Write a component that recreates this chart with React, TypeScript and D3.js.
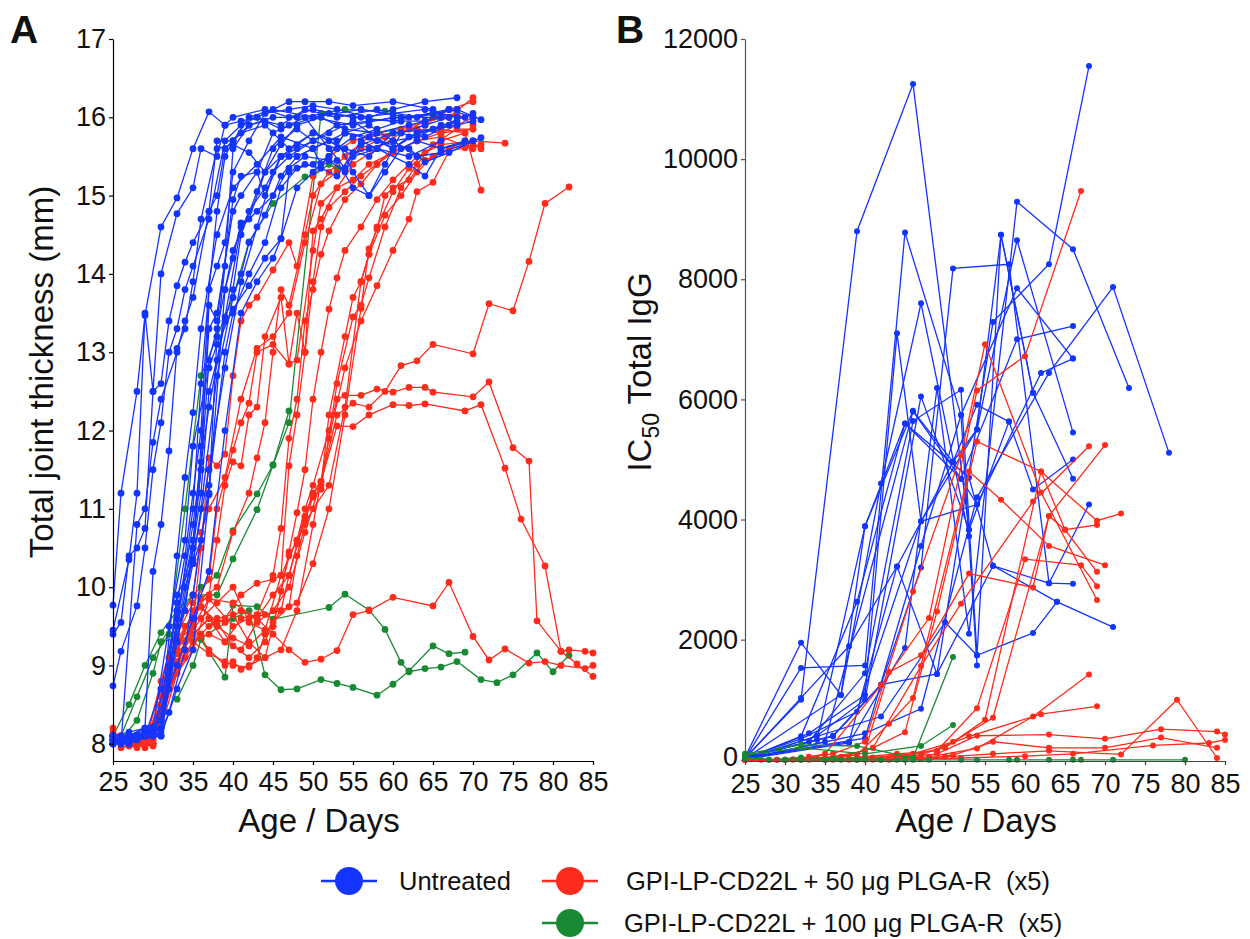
import * as d3 from "d3";
import React, { useRef, useEffect } from "react";

// colours of the three treatment groups
const BLUE = "#1434ff";
const RED = "#ff2b1c";
const GREEN = "#198a33";

const groupLabels = [
  "Untreated",
  "GPI-LP-CD22L + 50 \u03bcg PLGA-R  (x5)",
  "GPI-LP-CD22L + 100 \u03bcg PLGA-R  (x5)",
];

const dayTicks = [25, 30, 35, 40, 45, 50, 55, 60, 65, 70, 75, 80, 85];
const thicknessTicks = [8, 9, 10, 11, 12, 13, 14, 15, 16, 17];
const iggTicks = [0, 2000, 4000, 6000, 8000, 10000, 12000];

type Pt = [number, number];

// Panel A: total joint thickness (mm) per mouse, [day, value]
const thicknessUntreated: Pt[][] = [
  [[25, 9.77], [26, 11.2], [28, 12.5], [29, 13.47], [31, 14.6], [33, 14.97], [35, 15.6], [37, 16.07], [39, 15.9], [41, 15.95], [43, 16.0], [47, 16.2], [49, 16.2], [52, 16.2], [55, 16.15], [60, 16.2], [65, 16.1], [68, 15.9]],
  [[25, 9.45], [27, 10.35], [28, 11.2], [29, 13.5], [30, 12.5], [31, 14.0], [33, 14.77], [35, 15.1], [36, 15.6], [38, 15.5], [39, 15.9], [40, 16.0], [44, 16.1], [47, 16.0], [50, 16.1], [55, 16.0], [60, 15.95], [65, 16.05], [69, 16.0]],
  [[25, 9.4], [26, 9.55], [27, 10.4], [28, 10.5], [29, 10.75], [30, 12.5], [31, 12.6], [32, 13.4], [33, 13.85], [34, 14.15], [35, 14.4], [37, 14.8], [38, 15.0], [39, 15.6], [40, 15.7], [42, 16.0], [45, 16.1], [50, 16.0], [56, 16.1], [62, 16.0], [67, 16.1]],
  [[25, 8.74], [26, 9.18], [28, 9.76], [29, 10.5], [30, 11.5], [31, 12.1], [32, 13.0], [33, 13.3], [34, 13.8], [35, 14.1], [37, 14.7], [39, 15.7], [41, 15.9], [43, 16.0], [46, 15.85], [50, 16.0], [55, 15.9], [60, 16.0], [66, 16.0]],
  [[25, 8.1], [26, 8.0], [28, 10.8], [29, 11.0], [30, 11.85], [31, 12.4], [33, 13.0], [34, 13.4], [35, 13.7], [37, 14.8], [38, 15.7], [40, 15.7], [42, 15.9], [44, 15.95], [46, 15.9], [49, 16.1], [53, 16.0], [58, 16.1], [63, 16.0], [68, 16.1]],
  [[25, 8.0], [26, 8.05], [27, 8.1], [29, 8.2], [30, 10.2], [31, 10.8], [32, 11.74], [33, 13.05], [34, 13.3], [35, 13.9], [36, 14.7], [38, 15.6], [40, 15.65], [42, 15.55], [44, 15.3], [46, 15.65], [48, 15.9], [51, 16.0], [54, 15.85], [58, 15.8], [62, 15.9], [66, 16.0]],
  [[25, 8.05], [27, 8.0], [29, 8.15], [31, 8.2], [33, 9.8], [34, 10.4], [35, 11.2], [36, 12.0], [37, 13.8], [38, 14.8], [39, 15.5], [40, 15.7], [41, 15.8], [44, 15.9], [47, 15.6], [50, 15.8], [54, 15.6], [57, 15.5], [60, 15.8], [64, 15.75], [68, 15.95]],
  [[25, 8.1], [27, 8.1], [29, 8.1], [31, 8.7], [33, 9.7], [35, 10.5], [36, 11.8], [37, 13.3], [38, 13.5], [40, 14.8], [41, 15.0], [43, 15.3], [44, 15.0], [46, 15.5], [48, 15.5], [50, 15.6], [52, 15.7], [55, 15.5], [58, 15.6], [62, 15.5], [66, 15.7]],
  [[26, 8.05], [28, 8.1], [30, 8.15], [31, 8.2], [33, 9.9], [35, 10.3], [36, 10.6], [37, 11.2], [39, 13.8], [40, 14.2], [41, 14.65], [42, 14.7], [44, 15.3], [46, 15.5], [48, 15.6], [52, 15.8], [55, 15.95], [60, 15.6], [63, 15.8], [67, 15.9]],
  [[26, 8.0], [28, 8.1], [30, 8.2], [32, 9.5], [34, 10.6], [35, 11.8], [37, 12.8], [38, 13.1], [40, 13.55], [42, 13.85], [44, 14.2], [46, 14.45], [47, 15.3], [49, 15.4], [51, 15.35], [53, 15.25], [55, 15.55], [57, 15.6], [60, 15.7], [63, 15.75], [66, 15.9]],
  [[25, 8.0], [27, 8.0], [29, 8.1], [31, 8.3], [33, 9.3], [35, 10.5], [36, 11.2], [37, 12.5], [38, 12.9], [39, 13.45], [41, 14.6], [43, 14.8], [45, 15.0], [47, 15.35], [49, 15.5], [52, 15.45], [54, 15.3], [56, 15.65], [60, 15.8], [65, 15.85], [70, 16.05]],
  [[25, 8.05], [27, 8.1], [30, 8.2], [33, 9.0], [35, 9.6], [37, 10.2], [39, 12.0], [41, 13.5], [43, 13.9], [45, 14.2], [46, 14.45], [48, 15.1], [50, 15.3], [52, 15.5], [54, 15.8], [57, 15.9], [60, 15.7], [63, 15.5], [66, 15.55], [70, 15.7]],
  [[25, 8.0], [27, 8.05], [29, 8.15], [31, 8.1], [33, 9.5], [35, 11.0], [36, 12.6], [37, 13.8], [38, 14.1], [39, 14.4], [40, 15.3], [42, 15.7], [44, 16.05], [47, 16.1], [50, 16.15], [53, 16.1], [57, 16.0], [60, 16.1], [64, 16.2], [68, 16.25]],
  [[25, 8.1], [26, 8.0], [28, 8.1], [30, 8.15], [32, 9.0], [34, 9.7], [35, 10.5], [36, 11.5], [37, 13.6], [38, 13.4], [40, 14.95], [41, 15.25], [43, 15.3], [45, 15.8], [47, 15.9], [49, 16.0], [52, 15.6], [54, 15.35], [56, 15.7], [58, 15.6], [62, 15.4], [64, 15.25], [66, 15.6], [70, 15.7]],
  [[26, 8.05], [28, 8.1], [30, 8.1], [32, 8.7], [33, 9.6], [35, 10.8], [36, 11.6], [37, 12.3], [39, 13.4], [40, 13.8], [41, 14.5], [43, 15.05], [45, 15.6], [46, 15.7], [48, 15.85], [50, 15.7], [53, 15.6], [55, 15.75], [58, 15.85], [61, 15.95], [64, 15.95], [67, 16.1], [70, 16.0]],
  [[25, 8.0], [28, 8.05], [31, 8.1], [33, 9.3], [35, 10.3], [36, 11.0], [38, 12.7], [40, 13.7], [41, 14.0], [42, 14.4], [44, 14.75], [46, 15.25], [48, 15.5], [50, 15.6], [51, 15.4], [53, 15.45], [55, 15.1], [57, 15.0], [59, 15.3], [61, 15.6], [63, 15.7], [66, 15.6], [69, 15.7]],
  [[26, 8.1], [28, 8.05], [30, 8.1], [31, 8.15], [32, 8.4], [34, 9.2], [35, 9.9], [37, 11.3], [39, 13.0], [40, 13.5], [42, 14.0], [44, 14.4], [46, 15.1], [48, 15.35], [50, 15.4], [52, 15.5], [54, 15.8], [57, 15.75], [60, 15.6], [62, 15.75], [65, 15.85], [68, 15.9], [70, 15.95]],
  [[25, 8.05], [27, 8.1], [29, 8.1], [31, 8.2], [33, 9.6], [35, 10.6], [36, 11.5], [37, 12.9], [38, 13.3], [39, 13.8], [40, 14.3], [42, 14.8], [44, 15.1], [46, 15.5], [48, 15.65], [50, 15.8], [53, 15.7], [55, 15.3], [57, 15.0], [59, 15.4], [61, 15.8], [64, 15.9], [67, 16.0]],
  [[25, 8.1], [27, 8.15], [29, 8.2], [31, 8.1], [33, 8.7], [35, 9.2], [37, 11.18], [38, 13.2], [39, 14.1], [40, 15.6], [42, 15.9], [45, 16.0], [48, 16.0], [52, 16.05], [56, 16.0], [60, 16.05], [64, 16.1], [68, 16.0]],
  [[25, 8.05], [27, 8.1], [29, 8.2], [31, 8.3], [33, 10.4], [34, 11.4], [35, 12.23], [36, 13.3], [38, 14.5], [40, 15.1], [43, 15.4], [46, 15.75], [50, 15.6], [54, 15.8], [58, 15.7], [62, 15.6], [64, 15.43], [67, 15.55], [71, 15.74]],
  [[25, 8.0], [27, 8.05], [29, 8.1], [31, 8.2], [32, 8.9], [34, 10.0], [35, 10.35], [37, 11.5], [39, 12.8], [41, 13.9], [43, 14.6], [45, 15.3], [47, 15.5], [50, 15.7], [53, 15.9], [57, 15.95], [61, 16.0], [65, 16.05], [68, 16.1], [71, 15.97]],
];

const thicknessLow: Pt[][] = [
  [[25, 8.2], [26, 8.0], [28, 7.95], [29, 8.0], [30, 8.0], [31, 8.3], [33, 9.0], [35, 9.55], [36, 10.5], [37, 11.65], [38, 11.55], [39, 11.7], [40, 12.7], [41, 13.4], [42, 13.6], [43, 13.7], [45, 14.05], [47, 14.4], [48, 14.1], [50, 15.25], [52, 15.5], [55, 15.7], [58, 15.8], [61, 15.85], [64, 15.95], [67, 16.0], [70, 16.25]],
  [[25, 8.1], [26, 7.95], [28, 8.0], [29, 7.95], [30, 8.05], [31, 8.5], [33, 9.2], [35, 9.7], [37, 9.9], [38, 10.6], [39, 11.3], [40, 11.6], [41, 11.55], [42, 12.2], [43, 12.3], [44, 13.2], [46, 13.7], [47, 12.85], [48, 12.9], [50, 14.3], [51, 14.9], [53, 15.1], [55, 15.4], [58, 15.6], [61, 15.8], [64, 15.9], [67, 16.1], [70, 16.2]],
  [[25, 8.05], [27, 8.05], [28, 8.0], [30, 7.97], [31, 8.6], [33, 9.4], [35, 9.8], [37, 10.1], [38, 11.0], [40, 11.75], [41, 12.1], [42, 12.35], [43, 13.0], [45, 13.1], [47, 12.85], [48, 13.5], [49, 13.0], [50, 14.55], [51, 14.7], [53, 15.1], [55, 15.2], [57, 15.4], [60, 15.55], [63, 15.7], [66, 15.8], [70, 16.0]],
  [[25, 8.1], [27, 8.0], [29, 8.0], [31, 8.4], [33, 9.0], [35, 9.5], [36, 9.85], [38, 10.0], [40, 10.7], [42, 11.2], [43, 11.65], [44, 12.1], [45, 13.0], [46, 13.8], [47, 13.6], [49, 14.5], [50, 15.0], [52, 15.3], [54, 15.5], [57, 15.75], [60, 15.8], [63, 15.85], [66, 15.8], [70, 15.85]],
  [[26, 8.1], [28, 8.0], [30, 8.0], [32, 8.8], [34, 9.3], [36, 9.6], [38, 9.8], [40, 10.0], [42, 9.55], [44, 9.45], [46, 10.15], [47, 11.55], [48, 12.2], [49, 13.0], [50, 13.9], [51, 14.6], [52, 14.85], [54, 15.05], [56, 15.25], [58, 15.4], [60, 15.55], [63, 15.7], [66, 15.75], [70, 15.6]],
  [[25, 8.05], [27, 8.1], [29, 8.0], [31, 8.6], [33, 9.15], [35, 9.4], [37, 9.6], [39, 9.3], [41, 9.6], [43, 9.65], [45, 10.15], [46, 10.75], [47, 11.9], [48, 12.4], [49, 13.4], [50, 13.8], [51, 14.25], [52, 14.55], [54, 14.95], [56, 15.15], [58, 15.4], [60, 15.6], [63, 15.8], [66, 15.85], [69, 15.8], [71, 15.07]],
  [[26, 8.05], [28, 8.1], [30, 8.0], [32, 8.9], [34, 9.5], [36, 9.75], [38, 9.5], [40, 9.35], [42, 9.25], [44, 9.45], [45, 9.5], [46, 9.95], [47, 10.45], [48, 10.95], [49, 11.5], [50, 12.4], [51, 13.0], [52, 13.55], [53, 13.95], [54, 14.3], [56, 14.6], [58, 14.95], [60, 15.2], [63, 15.5], [66, 15.65], [70, 15.7], [74, 15.67]],
  [[25, 8.15], [27, 8.0], [29, 8.05], [31, 8.7], [33, 9.3], [35, 9.5], [37, 9.2], [39, 9.0], [40, 9.05], [41, 8.95], [42, 9.0], [44, 9.1], [45, 9.5], [46, 9.95], [47, 10.4], [48, 10.6], [49, 10.9], [50, 11.2], [51, 11.3], [52, 12.2], [54, 13.2], [55, 13.7], [56, 13.9], [57, 14.25], [59, 14.75], [61, 15.0], [63, 15.3], [65, 15.5], [67, 15.6], [70, 15.65]],
  [[25, 8.0], [27, 8.05], [29, 7.97], [31, 8.4], [33, 9.0], [35, 9.3], [37, 9.15], [39, 9.05], [40, 9.0], [42, 8.98], [43, 9.1], [44, 9.4], [46, 9.7], [47, 10.15], [48, 10.55], [49, 10.85], [50, 11.15], [51, 11.25], [53, 12.6], [55, 13.45], [56, 13.6], [57, 13.95], [59, 14.6], [61, 15.1], [63, 15.4], [65, 15.65], [68, 15.85], [70, 15.85]],
  [[26, 8.1], [28, 8.0], [30, 8.05], [32, 9.1], [34, 9.5], [36, 9.75], [38, 9.55], [40, 9.25], [42, 9.1], [44, 9.3], [45, 9.55], [47, 9.75], [48, 10.4], [49, 10.8], [50, 11.0], [52, 11.3], [54, 12.3], [56, 13.9], [57, 14.25], [58, 14.6], [60, 15.05], [62, 15.35], [64, 15.55], [66, 15.7], [69, 15.8]],
  [[25, 8.05], [27, 8.0], [29, 8.0], [31, 8.2], [33, 8.9], [35, 9.2], [37, 9.85], [40, 9.5], [42, 9.6], [44, 9.65], [46, 9.7], [48, 9.8], [50, 10.3], [52, 11.0], [54, 12.2], [56, 13.56], [57, 14.32], [58, 14.57], [59, 15.0], [60, 15.1], [62, 15.2], [64, 15.45], [66, 15.55], [69, 15.7], [71, 15.6]],
  [[26, 8.0], [28, 8.05], [30, 8.0], [32, 8.7], [34, 9.1], [36, 9.4], [38, 9.6], [40, 9.65], [42, 9.3], [44, 9.1], [46, 9.2], [48, 9.7], [50, 10.8], [52, 11.9], [54, 12.8], [56, 13.4], [58, 13.85], [60, 14.3], [62, 14.7], [63, 15.05], [65, 15.17], [67, 15.57], [69, 15.61], [71, 15.65]],
  [[25, 8.1], [27, 8.0], [29, 8.0], [31, 8.35], [33, 9.05], [35, 9.4], [37, 9.6], [39, 9.55], [41, 9.7], [43, 9.6], [45, 9.9], [47, 10.15], [49, 10.9], [50, 11.2], [51, 11.35], [53, 12.06], [55, 12.05], [57, 12.2], [60, 12.33], [62, 12.32], [64, 12.34], [69, 12.25], [71, 12.33], [74, 11.52], [76, 10.87], [79, 10.27], [81, 9.18], [83, 9.02], [85, 8.86]],
  [[25, 8.05], [27, 8.1], [29, 8.05], [31, 8.5], [33, 9.2], [35, 9.65], [37, 9.5], [39, 9.6], [41, 9.9], [43, 10.05], [45, 10.1], [46, 10.15], [48, 10.6], [49, 11.0], [50, 11.3], [52, 12.0], [53, 12.4], [54, 12.45], [56, 12.45], [58, 12.53], [60, 12.49], [62, 12.55], [64, 12.55], [65, 12.49], [70, 12.43], [72, 12.62], [75, 11.78], [77, 11.61], [78, 9.57], [81, 9.18], [82, 9.2], [84, 9.18], [85, 9.16]],
  [[25, 8.0], [27, 8.05], [29, 8.0], [31, 8.3], [33, 8.95], [35, 9.3], [37, 9.4], [39, 9.3], [41, 9.2], [43, 9.55], [45, 9.7], [47, 10.0], [49, 10.7], [51, 11.35], [53, 12.2], [55, 12.35], [57, 12.3], [59, 12.5], [61, 12.83], [63, 12.89], [65, 13.1], [70, 12.98], [72, 13.62], [75, 13.53], [77, 14.16], [79, 14.9], [82, 15.11]],
  [[25, 8.1], [27, 8.0], [29, 8.05], [31, 8.5], [33, 9.2], [35, 9.5], [37, 9.85], [40, 9.8], [43, 9.6], [45, 9.4], [47, 9.2], [49, 9.04], [51, 9.08], [53, 9.19], [55, 9.65], [57, 9.7], [60, 9.87], [65, 9.76], [67, 10.06], [70, 9.37], [72, 9.07], [74, 9.21], [77, 9.03], [79, 9.05], [81, 9.0], [84, 8.96], [85, 9.0]],
  [[25, 8.1], [27, 7.97], [29, 8.0], [31, 8.8], [33, 9.5], [35, 9.9], [36, 10.7], [37, 11.0], [39, 11.4], [41, 12.4], [43, 13.05], [45, 13.2], [47, 13.5], [49, 14.4], [51, 15.15], [53, 15.3], [56, 15.6], [59, 15.75], [62, 15.85], [65, 16.0], [68, 16.05], [70, 15.9]],
];

const thicknessHigh: Pt[][] = [
  [[25, 8.1], [27, 8.5], [29, 9.0], [31, 9.42], [33, 9.7], [36, 10.0], [38, 10.15], [40, 10.72], [43, 11.19], [45, 11.56], [47, 12.1], [51, 16.05], [54, 16.1], [59, 16.08]],
  [[26, 8.1], [28, 8.6], [30, 9.1], [32, 9.4], [34, 11.0], [36, 12.7], [38, 13.2], [40, 13.7], [42, 14.41], [45, 14.9], [49, 15.24], [50, 15.25], [52, 15.4], [53, 15.35]],
  [[26, 8.05], [28, 8.3], [30, 8.9], [31, 9.3], [33, 9.6], [35, 9.9], [38, 9.9], [40, 10.36], [43, 10.99], [45, 11.56], [47, 12.25]],
  [[33, 8.57], [35, 9.0], [36, 9.33], [39, 8.85], [40, 9.77], [43, 9.75], [45, 9.59], [52, 9.74], [54, 9.91], [57, 9.71], [59, 9.46], [61, 9.04], [62, 8.92], [64, 8.96], [66, 8.98], [68, 9.05], [71, 8.82], [73, 8.78], [75, 8.88], [78, 9.16], [80, 8.92], [82, 9.13]],
  [[31, 9.3], [33, 9.35], [36, 9.35], [40, 9.6], [42, 9.7], [44, 8.88], [46, 8.69], [48, 8.7], [51, 8.82], [53, 8.77], [55, 8.72], [58, 8.62], [60, 8.76], [62, 8.93], [65, 9.25], [67, 9.15], [69, 9.17]],
];

// Panel B: IC50 total IgG per mouse, [day, value]
const iggUntreated: Pt[][] = [
  [[25, 30], [32, 1000], [39, 8800], [46, 11250], [53, 3830]],
  [[25, 20], [32, 1530], [40, 1570], [45, 8780], [52, 5740], [54, 1570]],
  [[25, 40], [32, 1950], [37, 1080], [42, 4600], [47, 7600], [53, 3720]],
  [[25, 10], [33, 440], [40, 1080], [44, 7100], [47, 3970], [54, 5500], [59, 8650], [66, 5450]],
  [[25, 30], [34, 330], [40, 3890], [46, 5810], [51, 4960], [54, 5910], [58, 5630]],
  [[25, 20], [32, 390], [39, 2630], [45, 5600], [52, 4680], [54, 4250]],
  [[25, 50], [36, 390], [42, 1250], [47, 3200], [51, 8180], [58, 8250], [63, 2940], [66, 2930]],
  [[25, 10], [38, 280], [45, 1860], [49, 6190], [53, 2100], [59, 9290], [66, 8500], [73, 6190]],
  [[25, 30], [33, 300], [40, 1440], [46, 5640], [52, 6160], [54, 1740], [57, 8740], [61, 6110], [66, 4680]],
  [[25, 20], [32, 1030], [38, 1890], [44, 3220], [49, 1430], [56, 7290], [63, 8250], [68, 11550]],
  [[25, 10], [40, 440], [47, 850], [54, 4370], [63, 6440], [71, 7870], [78, 5110]],
  [[25, 30], [40, 360], [47, 3560], [52, 5740], [59, 7850], [66, 6680]],
  [[25, 20], [42, 720], [50, 2290], [54, 1740], [61, 2110], [64, 2630], [71, 2210]],
  [[25, 10], [35, 300], [46, 5800], [52, 4680], [59, 7000], [66, 7220]],
  [[25, 40], [36, 400], [42, 1250], [49, 1430], [56, 3230], [63, 2940], [68, 4250]],
  [[25, 20], [38, 300], [44, 3220], [51, 4960], [54, 5500], [57, 8740], [61, 6110]],
  [[25, 20], [37, 1080], [40, 3890], [45, 5600], [53, 4700], [56, 3230], [64, 2630]],
  [[25, 30], [32, 350], [39, 800], [47, 3970], [54, 4250], [62, 6440], [66, 6680]],
  [[25, 10], [34, 400], [40, 1000], [47, 6050], [53, 3830], [58, 5630], [61, 4500], [66, 5000]],
];

const iggLow: Pt[][] = [
  [[25, 0], [27, 0], [29, 0], [31, 10], [33, 50], [36, 100], [40, 300], [46, 2800], [52, 5070], [55, 6920], [62, 4450], [69, 2660]],
  [[25, 10], [28, 0], [30, 0], [32, 20], [35, 100], [42, 1240], [48, 2360], [54, 6150], [60, 6720], [67, 9470]],
  [[25, 0], [29, 0], [33, 30], [37, 50], [41, 200], [45, 460], [49, 2470], [54, 5300], [62, 4800], [65, 3830], [69, 3910]],
  [[25, 0], [30, 0], [34, 20], [39, 80], [43, 600], [46, 1030], [53, 4800], [57, 4330], [63, 3560], [70, 3240]],
  [[25, 10], [31, 0], [35, 30], [40, 150], [43, 1460], [47, 1740], [53, 3100], [61, 2870], [63, 4060], [70, 5240]],
  [[25, 0], [33, 0], [37, 40], [41, 200], [47, 1560], [52, 2600], [61, 4300], [68, 5220]],
  [[25, 0], [32, 0], [38, 30], [44, 100], [49, 150], [54, 860], [60, 3340], [67, 3240], [69, 2890]],
  [[25, 0], [35, 0], [40, 30], [45, 60], [50, 200], [55, 665], [62, 4800], [69, 3980], [72, 4100]],
  [[25, 0], [36, 0], [41, 40], [46, 100], [51, 300], [56, 700], [63, 4060], [65, 3830], [69, 3130]],
  [[25, 0], [38, 0], [43, 20], [48, 50], [54, 190], [61, 720], [68, 1420]],
  [[25, 0], [39, 0], [44, 30], [47, 80], [53, 390], [62, 760], [69, 890]],
  [[25, 0], [40, 0], [45, 40], [49, 100], [54, 400], [63, 420], [70, 350], [77, 510], [84, 470], [85, 420]],
  [[25, 0], [41, 0], [46, 20], [50, 50], [56, 100], [63, 150], [72, 90], [79, 1000], [84, 30]],
  [[25, 0], [42, 0], [47, 10], [52, 30], [60, 60], [66, 100], [76, 240], [83, 280], [85, 330]],
  [[25, 0], [43, 0], [48, 20], [51, 80], [56, 300], [63, 200], [70, 200], [77, 370], [84, 200]],
];

const iggHigh: Pt[][] = [
  [[25, 100], [32, 250], [39, 230], [46, 30], [51, 1710]],
  [[25, 80], [32, 200], [40, 100], [47, 230], [51, 580]],
  [[25, 20], [30, 0], [32, 0], [35, 0], [37, 0], [39, 0], [42, 0], [45, 0], [46, 0], [52, 0], [54, 0], [58, 0], [59, 0], [63, 0], [66, 0], [67, 0], [71, 0], [80, 0]],
  [[25, 50], [28, 0], [32, 40], [36, 20], [40, 10], [44, 0], [48, 0]],
];

const FONT = "'Liberation Sans', Arial, sans-serif";

const App = () => {
  const svgRef = useRef<SVGSVGElement>(null);

  useEffect(() => {
    const svg = d3.select(svgRef.current);
    svg.selectAll("*").remove();

    const drawSeries = (g, sets, x, y, r) => {
      sets.forEach(({ data, color }) => {
        const line = d3.line<Pt>().x((d) => x(d[0])).y((d) => y(d[1]));
        data.forEach((s) => {
          g.append("path")
            .attr("d", line(s))
            .attr("fill", "none")
            .attr("stroke", color)
            .attr("stroke-width", 1.3);
          g.selectAll(null)
            .data(s)
            .enter()
            .append("circle")
            .attr("cx", (d) => x(d[0]))
            .attr("cy", (d) => y(d[1]))
            .attr("r", r)
            .attr("fill", color);
        });
      });
    };

    const styleAxis = (g, color) => {
      g.select(".domain").attr("stroke", color).attr("stroke-width", 1.2);
      g.selectAll(".tick line").attr("stroke", color).attr("stroke-width", 1.2);
      g.selectAll(".tick text")
        .attr("fill", "#111")
        .style("font-family", FONT)
        .style("font-size", "27px");
    };

    // ---------- Panel A ----------
    const xA = d3.scaleLinear().domain([25, 85]).range([113, 593]);
    const yA = d3.scaleLinear().domain([7.78, 17]).range([761, 39]);
    const gA = svg.append("g");

    drawSeries(
      gA,
      [
        { data: thicknessHigh, color: GREEN },
        { data: thicknessLow, color: RED },
        { data: thicknessUntreated, color: BLUE },
      ],
      xA,
      yA,
      3.4
    );

    const axA = gA
      .append("g")
      .attr("transform", "translate(0,761)")
      .call(d3.axisBottom(xA).tickValues(dayTicks).tickSize(4).tickSizeOuter(0).tickPadding(7));
    styleAxis(axA, "#000");
    const ayA = gA
      .append("g")
      .attr("transform", "translate(113,0)")
      .call(d3.axisLeft(yA).tickValues(thicknessTicks).tickSize(4).tickSizeOuter(0).tickPadding(3));
    styleAxis(ayA, "#000");

    // ---------- Panel B ----------
    const xB = d3.scaleLinear().domain([25, 85]).range([745, 1225]);
    const yB = d3.scaleLinear().domain([-20, 12000]).range([761, 39]);
    const gB = svg.append("g");

    drawSeries(
      gB,
      [
        { data: iggUntreated, color: BLUE },
        { data: iggLow, color: RED },
        { data: iggHigh, color: GREEN },
      ],
      xB,
      yB,
      3
    );

    const axB = gB
      .append("g")
      .attr("transform", "translate(0,761)")
      .call(d3.axisBottom(xB).tickValues(dayTicks).tickSize(4).tickSizeOuter(0).tickPadding(9));
    styleAxis(axB, "#444");
    const ayB = gB
      .append("g")
      .attr("transform", "translate(745,0)")
      .call(
        d3
          .axisLeft(yB)
          .tickValues(iggTicks)
          .tickFormat(d3.format("d"))
          .tickSize(4)
          .tickSizeOuter(0)
          .tickPadding(3)
      );
    styleAxis(ayB, "#555");
    // zero label sits a little higher, clear of the day labels
    ayB.selectAll(".tick text").filter((d) => d === 0).attr("dy", "0.2em");

    // ---------- titles ----------
    const txt = (x, y, s, size, extra = {}) => {
      const t = svg
        .append("text")
        .attr("x", x)
        .attr("y", y)
        .attr("fill", "#111")
        .style("font-family", FONT)
        .style("font-size", size + "px")
        .text(s);
      Object.entries(extra).forEach(([k, v]) => t.attr(k, v as string));
      return t;
    };

    txt(10, 43, "A", 39, { "font-weight": "bold" });
    txt(616, 43, "B", 39, { "font-weight": "bold" });
    txt(319, 832, "Age / Days", 33, { "text-anchor": "middle" });
    txt(976, 832, "Age / Days", 33, { "text-anchor": "middle" });
    txt(0, 0, "Total joint thickness (mm)", 33, {
      "text-anchor": "middle",
      transform: "translate(53,372) rotate(-90)",
    });

    const icTitle = svg
      .append("text")
      .attr("transform", "translate(651,372) rotate(-90)")
      .attr("text-anchor", "middle")
      .attr("fill", "#111")
      .style("font-family", FONT)
      .style("font-size", "33px");
    icTitle.append("tspan").text("IC");
    icTitle.append("tspan").attr("dy", 8).style("font-size", "23px").text("50");
    icTitle.append("tspan").attr("dy", -8).text(" Total IgG");

    // ---------- legend ----------
    const legendItems = [
      { label: groupLabels[0], color: BLUE, cx: 349, cy: 881, tx: 399 },
      { label: groupLabels[1], color: RED, cx: 570, cy: 881, tx: 626 },
      { label: groupLabels[2], color: GREEN, cx: 570, cy: 923, tx: 624 },
    ];
    const lg = svg.append("g");
    legendItems.forEach((d) => {
      lg.append("line")
        .attr("x1", d.cx - 28)
        .attr("x2", d.cx + 28)
        .attr("y1", d.cy)
        .attr("y2", d.cy)
        .attr("stroke", d.color)
        .attr("stroke-width", 2.5);
      lg.append("circle").attr("cx", d.cx).attr("cy", d.cy).attr("r", 14).attr("fill", d.color);
      lg.append("text")
        .attr("x", d.tx)
        .attr("y", d.cy + 9)
        .attr("fill", "#111")
        .style("font-family", FONT)
        .style("font-size", "25.5px")
        .style("white-space", "pre")
        .text(d.label);
    });
  }, []);

  return (
    <svg
      ref={svgRef}
      width={1250}
      height={939}
      style={{ position: "absolute", left: 0, top: 0, background: "#fff" }}
    />
  );
};

export default App;
